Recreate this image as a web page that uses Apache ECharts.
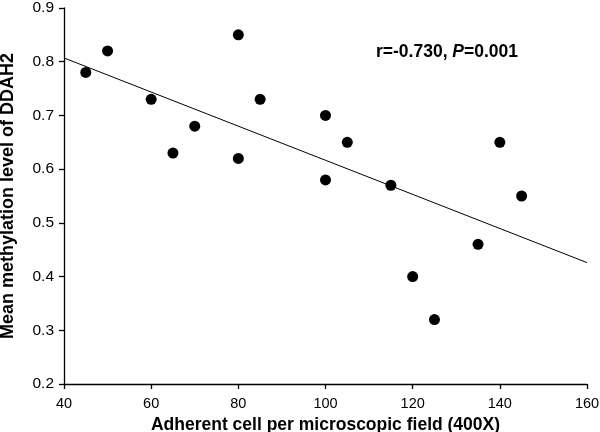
<!DOCTYPE html>
<html>
<head>
<meta charset="utf-8">
<script src="https://cdn.jsdelivr.net/npm/echarts@6/dist/echarts.min.js"></script>
<style>
  html, body { margin: 0; padding: 0; background: #fff; }
  #chart { width: 600px; height: 432px; }
</style>
</head>
<body>
<div id="chart"></div>
<script>
// adherent cells per field (x) vs mean DDAH2 methylation (y)
const cellCounts = [45, 50, 60, 65, 70, 80, 80, 85, 100, 100, 105, 115, 120, 125, 135, 140, 145];
const methylation = [0.78, 0.82, 0.73, 0.63, 0.68, 0.85, 0.62, 0.73, 0.70, 0.58, 0.65, 0.57, 0.40, 0.32, 0.46, 0.65, 0.55];
// regression line ends
const fitX = [40, 160];
const fitY = [0.807, 0.426];
const xTicks = [40, 60, 80, 100, 120, 140, 160];
const yTicks = [0.2, 0.3, 0.4, 0.5, 0.6, 0.7, 0.8, 0.9];

const font = "Liberation Sans, Arial, sans-serif";

const chart = echarts.init(document.getElementById("chart"));
chart.setOption({
  animation: false,
  backgroundColor: "#fff",
  grid: { left: 64, right: 13, top: 8, bottom: 48, outerBoundsMode: "none" },
  title: {
    left: 376,
    top: 43,
    padding: 0,
    text: "{a|r=-0.730, }{b|P}{a|=0.001}",
    textStyle: {
      rich: {
        a: { fontFamily: font, fontSize: 17.5, fontWeight: "bold", color: "#000" },
        b: { fontFamily: font, fontSize: 17.5, fontWeight: "bold", fontStyle: "italic", color: "#000" },
      },
    },
  },
  xAxis: {
    type: "value",
    min: xTicks[0],
    max: xTicks[xTicks.length - 1],
    interval: 20,
    name: "Adherent cell per microscopic field (400X)",
    nameLocation: "middle",
    nameGap: 31,
    nameTextStyle: { fontFamily: font, fontSize: 17.5, fontWeight: "bold", color: "#000" },
    axisLine: { lineStyle: { color: "#000", width: 1.3 } },
    axisTick: { length: 5, lineStyle: { color: "#000", width: 1.3 } },
    axisLabel: { margin: 12, fontFamily: font, fontSize: 14.5, color: "#000" },
    splitLine: { show: false },
  },
  yAxis: {
    type: "value",
    min: yTicks[0],
    max: yTicks[yTicks.length - 1],
    interval: 0.1,
    name: "Mean methylation level of DDAH2",
    nameLocation: "middle",
    nameGap: 47,
    nameTextStyle: { fontFamily: font, fontSize: 18, fontWeight: "bold", color: "#000" },
    axisLine: { show: true, lineStyle: { color: "#000", width: 1.3 } },
    axisTick: { show: true, length: 5, lineStyle: { color: "#000", width: 1.3 } },
    axisLabel: {
      margin: 10,
      fontFamily: font,
      fontSize: 15.5,
      color: "#000",
      formatter: (v) => v.toFixed(1),
    },
    splitLine: { show: false },
  },
  series: [
    {
      type: "line",
      data: fitX.map((x, i) => [x, fitY[i]]),
      showSymbol: false,
      lineStyle: { color: "#000", width: 1 },
      silent: true,
    },
    {
      type: "scatter",
      data: cellCounts.map((x, i) => [x, methylation[i]]),
      symbolSize: 11,
      itemStyle: { color: "#000", opacity: 1 },
    },
  ],
});
</script>
</body>
</html>
